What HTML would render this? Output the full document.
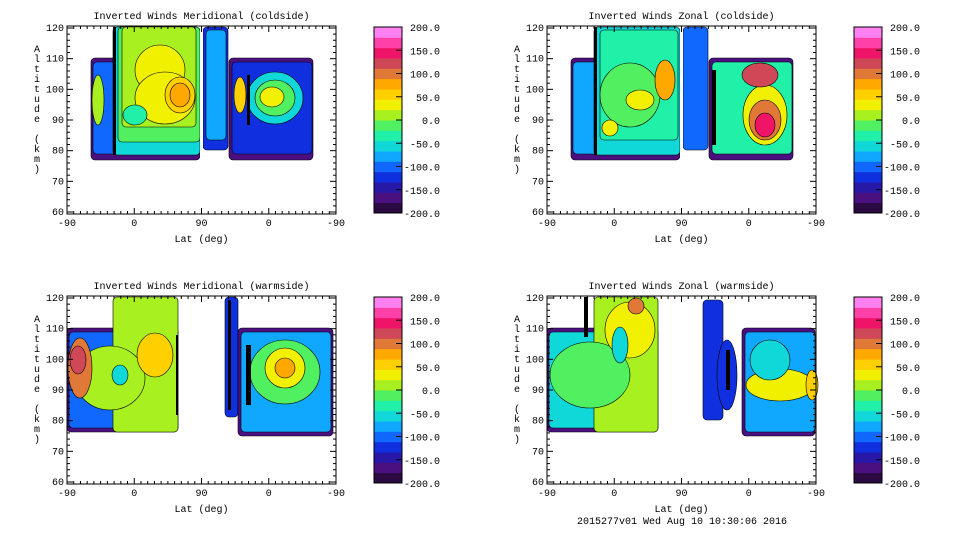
<!DOCTYPE html><html><head><style>body{margin:0;background:#fff}svg{display:block}text{font-family:"Liberation Mono",monospace;font-size:10px;fill:#000}</style></head><body>
<svg id="s" width="960" height="540" xmlns="http://www.w3.org/2000/svg"></svg>
<script>
const S=document.getElementById('s');let h='';
const cols=['#2a0a40','#4a1080','#2818a8','#1030e0','#1068ff','#10a8ff','#10d8d8','#20f0a8','#50f060','#a8f020','#f0f000','#ffd000','#ffa800','#e07838','#d04858','#f01468','#ff40a8','#ff80f0'];
function panel(ox,oy,title,blobs){
 const L=ox+67,R=ox+336,T=oy+26,B=oy+214;
 h+=blobs;
 h+=`<rect x="${L}" y="${T}" width="${R-L}" height="${B-T}" fill="none" stroke="#000"/>`;
 h+=`<text x="${(L+R)/2}" y="${oy+19}" text-anchor="middle">${title}</text>`;
 for(let i=0;i<=40;i++){let x=L+i*(R-L)/40;let len=i%10==0?6:3;h+=`<line x1="${x}" y1="${B}" x2="${x}" y2="${B-len}" stroke="#000"/><line x1="${x}" y1="${T}" x2="${x}" y2="${T+len}" stroke="#000"/>`;}
 const labs=['-90','0','90','0','-90'];
 labs.forEach((l,i)=>{h+=`<text x="${L+i*(R-L)/4}" y="${B+12}" text-anchor="middle">${l}</text>`});
 h+=`<text x="${(L+R)/2}" y="${B+28}" text-anchor="middle">Lat (deg)</text>`;
 for(let i=0;i<=30;i++){let y=T+2+i*(B-T-4)/30;let len=i%5==0?6:3;h+=`<line x1="${L}" y1="${y}" x2="${L+len}" y2="${y}" stroke="#000"/><line x1="${R}" y1="${y}" x2="${R-len}" y2="${y}" stroke="#000"/>`;}
 for(let i=0;i<=6;i++){h+=`<text x="${L-3}" y="${T+5+i*(B-T-4)/6}" text-anchor="end">${120-i*10}</text>`}
 'Altitude (km)'.split('').forEach((c,i)=>{h+=`<text x="${ox+37}" y="${oy+52+i*10}" text-anchor="middle">${c}</text>`});
 const cx=ox+374,cw=28,ct=oy+27,cb=oy+213,n=cols.length;
 for(let i=0;i<n;i++){h+=`<rect x="${cx}" y="${cb-(i+1)*(cb-ct)/n}" width="${cw}" height="${(cb-ct)/n+0.5}" fill="${cols[i]}"/>`}
 h+=`<rect x="${cx}" y="${ct}" width="${cw}" height="${cb-ct}" fill="none" stroke="#000"/>`;
 const vl=['200.0','150.0','100.0','50.0','0.0','-50.0','-100.0','-150.0','-200.0'];
 vl.forEach((v,i)=>{let y=ct+i*(cb-ct)/8;h+=`<text x="${ox+440}" y="${y+4}" text-anchor="end">${v}</text>`;if(i>0&&i<8)h+=`<line x1="${cx+cw-6}" y1="${y}" x2="${cx+cw}" y2="${y}" stroke="#000"/>`});
}
const C=i=>cols[i];
function blk(x,y,w,hh,c){return `<rect x="${x}" y="${y}" width="${w}" height="${hh}" rx="4" fill="${c}" stroke="#000" stroke-width="0.6"/>`}
function el(cx,cy,rx,ry,c){return `<ellipse cx="${cx}" cy="${cy}" rx="${rx}" ry="${ry}" fill="${c}" stroke="#000" stroke-width="0.6"/>`}
let b1=blk(91,58,109,102,C(1))+blk(93,62,105,92,C(4))+blk(113,27,87,128,C(6))+blk(118,27,82,115,C(8))+blk(122,27,74,100,C(9))+el(160,70,25,25,C(10))+el(165,98,30,26,C(10))+el(180,95,15,18,C(11))+el(180,95,10,12,C(12))+el(98,100,6,25,C(9))+`<rect x="113" y="27" width="3" height="128" fill="#000"/>`+el(135,115,12,10,C(7))
+blk(203,27,25,123,C(3))+blk(206,30,20,110,C(5))+`<rect x="200" y="27" width="3" height="135" fill="#fff"/>`
+blk(229,58,84,102,C(1))+blk(232,62,80,92,C(3))+el(275,98,28,26,C(6))+el(275,98,20,18,C(8))+el(272,97,12,10,C(10))+el(240,95,6,18,C(11))+`<rect x="247" y="75" width="3" height="50" fill="#000"/>`;
panel(0,0,'Inverted Winds Meridional (coldside)',b1);
let b2=blk(571,58,109,102,C(1))+blk(573,62,105,92,C(5))+blk(594,27,86,128,C(6))+blk(600,30,78,110,C(7))+el(630,95,30,32,C(8))+el(640,100,14,10,C(10))+el(610,128,8,8,C(10))+`<rect x="594" y="27" width="3" height="128" fill="#000"/>`+el(665,80,10,20,C(12))
+blk(683,27,25,123,C(4))+`<rect x="680" y="27" width="3" height="135" fill="#fff"/>`
+blk(709,58,84,102,C(1))+blk(712,62,80,92,C(7))+el(765,115,22,30,C(10))+el(765,120,16,20,C(13))+el(765,125,10,12,C(15))+el(760,75,18,12,C(14))+`<rect x="712" y="70" width="4" height="75" fill="#000"/>`;
panel(480,0,'Inverted Winds Zonal (coldside)',b2);
let b3=blk(67,328,111,104,C(1))+blk(69,332,108,96,C(4))+blk(113,297,65,135,C(9))+el(110,378,35,32,C(9))+el(80,368,12,30,C(13))+el(78,360,8,14,C(14))+el(155,355,18,22,C(11))+el(120,375,8,10,C(6))+`<rect x="176" y="335" width="2" height="80" fill="#000"/>`
+blk(225,297,13,120,C(3))+`<rect x="228" y="300" width="3" height="110" fill="#000"/>`
+blk(238,328,95,108,C(1))+blk(241,332,90,100,C(5))+el(285,372,35,32,C(8))+el(285,368,20,20,C(10))+el(285,368,10,10,C(12))+`<rect x="246" y="345" width="5" height="60" fill="#000"/>`;
panel(0,270,'Inverted Winds Meridional (warmside)',b3);
let b4=blk(547,328,111,104,C(1))+blk(549,332,108,96,C(6))+blk(594,297,64,135,C(9))+el(590,375,40,33,C(8))+el(630,330,25,28,C(10))+el(620,345,8,18,C(6))+el(636,306,8,8,C(13))+`<rect x="584" y="297" width="4" height="40" fill="#000"/>`
+blk(703,300,20,120,C(3))+el(727,375,10,35,C(3))+`<rect x="726" y="350" width="4" height="40" fill="#000"/>`
+blk(742,328,73,108,C(1))+blk(745,332,70,100,C(5))+el(780,385,34,16,C(10))+el(770,360,20,20,C(6))+el(812,385,6,15,C(11));
panel(480,270,'Inverted Winds Zonal (warmside)',b4);
h+=`<text x="682" y="524" text-anchor="middle">2015277v01 Wed Aug 10 10:30:06 2016</text>`;
S.innerHTML=h;
</script></body></html>
